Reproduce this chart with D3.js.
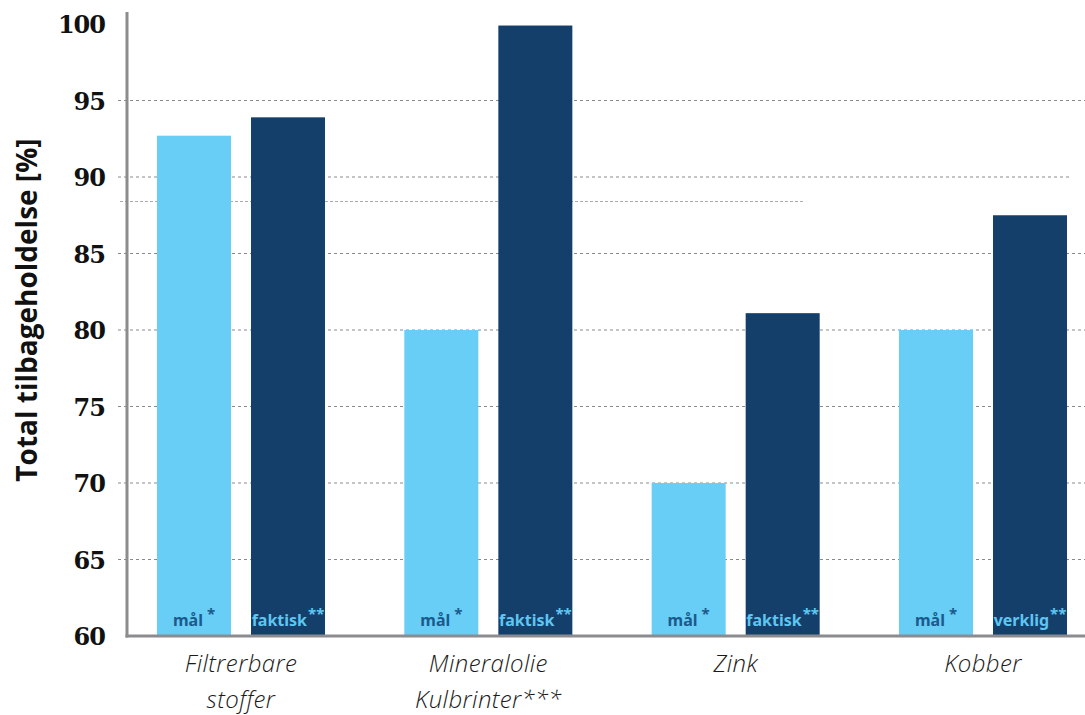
<!DOCTYPE html>
<html><head><meta charset="utf-8">
<script src="https://cdn.jsdelivr.net/npm/d3@7"></script>
<style>body{margin:0;background:#fff}svg{display:block}</style>
</head><body>
<svg id="c" width="1085" height="715"></svg>
<script>
const categories = [["Filtrerbare","stoffer"],["Mineralolie","Kulbrinter***"],["Zink"],["Kobber"]];
const targetValues = [92.7, 80, 70, 80];
const actualValues = [93.9, 99.9, 81.1, 87.5];
const targetLabels = ["mål","mål","mål","mål"];
const actualLabels = ["faktisk","faktisk","faktisk","verklig"];
const yTicks = [60,65,70,75,80,85,90,95,100];
const gridTicks = [65,70,75,80,85,90,95];

(function(){
const svg = d3.select("#c");
const W = 1085, H = 715;
const plotLeft = 127, plotBottom = 636, plotTop = 24;
const y = d3.scaleLinear().domain([60,100]).range([plotBottom, plotTop]);
const x0 = d3.scaleBand().domain(d3.range(categories.length)).range([133,1091]).paddingInner(0.3207).paddingOuter(0.097);
const x1 = d3.scaleBand().domain(["t","a"]).range([0, x0.bandwidth()]).paddingInner(0.2128);

// gridlines
svg.append("g").selectAll("line").data(gridTicks).join("line")
  .attr("x1",118).attr("x2",d=>d===90?1070:W)
  .attr("y1",d=>y(d)).attr("y2",d=>y(d))
  .attr("stroke","#8a8a8a").attr("stroke-width",1).attr("stroke-dasharray","3,3");
// stray faint dashed line
svg.append("line").attr("x1",120).attr("x2",805).attr("y1",y(88.4)).attr("y2",y(88.4))
  .attr("stroke","#aaa").attr("stroke-width",1.2).attr("stroke-dasharray","3,2");

const lightBlue = "#68cef6", navy = "#143f6b";
const g = svg.append("g").selectAll("g").data(categories).join("g")
  .attr("transform",(d,i)=>`translate(${x0(i)},0)`);
g.append("rect").attr("x",x1("t")).attr("width",x1.bandwidth())
  .attr("y",(d,i)=>y(targetValues[i])).attr("height",(d,i)=>plotBottom-y(targetValues[i])).attr("fill",lightBlue);
g.append("rect").attr("x",x1("a")).attr("width",x1.bandwidth())
  .attr("y",(d,i)=>y(actualValues[i])).attr("height",(d,i)=>plotBottom-y(actualValues[i])).attr("fill",navy);

// in-bar labels
const lblFont = "'Noto Sans', 'Open Sans', sans-serif";
g.append("text").attr("x",x1("t")+x1.bandwidth()/2).attr("y",plotBottom-10)
  .attr("text-anchor","middle").attr("font-family",lblFont).attr("font-weight","bold")
  .attr("font-size",16).attr("fill","#1b5a8c")
  .each(function(d,i){
    const t=d3.select(this);
    t.append("tspan").text(targetLabels[i]);
    t.append("tspan").attr("dy",-7).attr("dx",4).attr("font-size",15).text("*");
  });
g.append("text").attr("x",x1("a")+x1.bandwidth()/2).attr("y",plotBottom-10)
  .attr("text-anchor","middle").attr("font-family",lblFont).attr("font-weight","bold")
  .attr("font-size",16).attr("fill","#5ec6f0")
  .each(function(d,i){
    const t=d3.select(this);
    t.append("tspan").text(actualLabels[i]);
    t.append("tspan").attr("dy",-7).attr("dx",1).attr("font-size",15).text("**");
  });

// axes lines
svg.append("line").attr("x1",plotLeft).attr("x2",plotLeft).attr("y1",12).attr("y2",plotBottom+1.5)
  .attr("stroke","#8c8c8f").attr("stroke-width",3);
svg.append("line").attr("x1",plotLeft-1.5).attr("x2",W).attr("y1",plotBottom).attr("y2",plotBottom)
  .attr("stroke","#8c8c8f").attr("stroke-width",3);

// y tick labels
svg.append("g").selectAll("text").data(yTicks).join("text")
  .attr("x",105).attr("y",d=>y(d)+9)
  .attr("text-anchor","end").attr("font-family","'DejaVu Serif', serif").attr("font-weight","bold")
  .attr("font-size",24).attr("letter-spacing",-1).attr("fill","#111").text(d=>d);

// y title
svg.append("text").attr("transform",`translate(37,310) rotate(-90)`)
  .attr("text-anchor","middle").attr("font-family","'Open Sans', sans-serif")
  .attr("font-weight","bold").attr("font-size",28).attr("fill","#111")
  .text("Total tilbageholdelse [%]");

// category labels
svg.append("g").selectAll("text").data(categories).join("text")
  .attr("x",(d,i)=>x0(i)+x0.bandwidth()/2).attr("y",672)
  .attr("text-anchor","middle").attr("font-family","'Open Sans', sans-serif")
  .attr("font-style","italic").attr("font-weight",300).attr("font-size",24)
  .attr("letter-spacing",0.4).attr("fill","#1a1a1a")
  .each(function(d){
    const t=d3.select(this);
    d.forEach((line,k)=>t.append("tspan").attr("x",t.attr("x")).attr("dy",k?36:0).text(line));
  });
})();
</script>
</body></html>
